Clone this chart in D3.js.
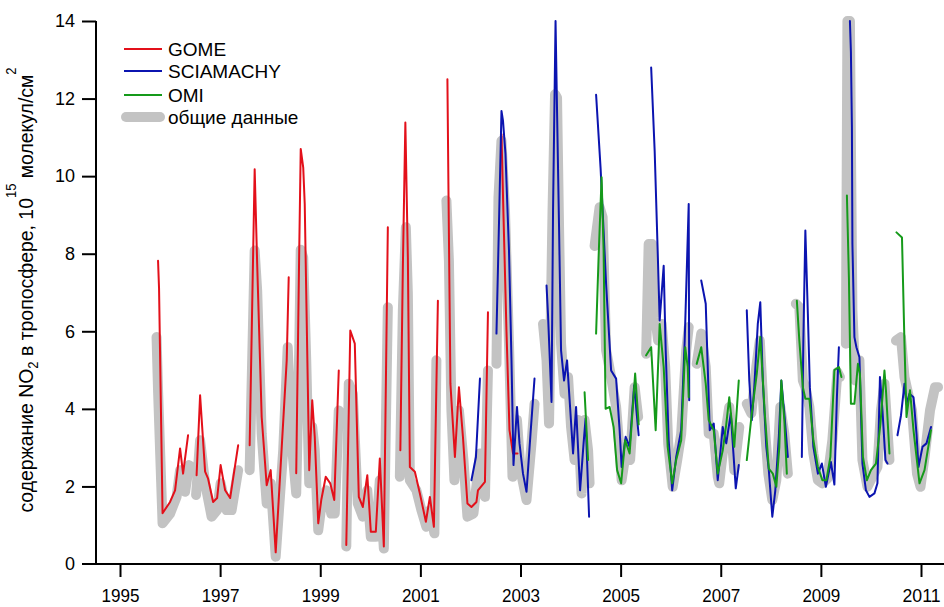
<!DOCTYPE html>
<html><head><meta charset="utf-8">
<script src="https://cdn.jsdelivr.net/npm/d3@7"></script>
<style>
html,body{margin:0;padding:0;background:#fff;}
svg text{font-family:Arial,"Liberation Sans",sans-serif;}
</style></head>
<body><svg id="chart" width="944" height="607"></svg>
<script>
// ---- data (decimal years, NO2 10^15 molecules/cm2); null = gap ----
const gomeYears = [1995.76,1995.78,1995.85,1996.0,1996.10,1996.20,1996.26,1996.36,null,
 1996.53,1996.60,1996.70,1996.76,1996.86,1996.94,1997.01,1997.10,1997.20,1997.36,null,
 1997.59,1997.69,1997.74,1997.83,1997.93,1998.01,1998.11,1998.33,1998.37,null,
 1998.52,1998.58,1998.61,1998.66,1998.69,1998.78,1998.84,1998.89,1998.96,1999.02,1999.11,1999.20,1999.28,1999.37,null,
 1999.52,1999.60,1999.69,1999.77,1999.85,1999.94,2000.01,2000.11,2000.19,2000.27,2000.35,null,
 2000.60,2000.65,2000.70,2000.75,2000.79,2000.89,2000.99,2001.11,2001.19,2001.27,2001.35,null,
 2001.54,2001.56,2001.60,2001.69,2001.77,2001.85,2001.94,2002.02,2002.12,2002.15,2002.29,2002.35,null,
 2002.62,2002.66,2002.72,2002.78,2002.85,2002.94];
const gomeValues = [7.82,7.1,1.31,1.6,1.9,2.98,2.33,3.32,null,
 2.29,4.35,2.38,2.2,1.6,1.7,2.55,1.9,1.7,3.06,null,
 3.06,10.18,7.74,3.79,2.03,2.42,0.3,5.25,7.39,null,
 2.34,8.08,10.7,10.22,9.28,2.42,4.22,3.28,1.05,1.65,2.25,2.08,1.65,4.99,null,
 0.49,6.02,5.68,1.73,1.47,2.29,0.83,0.83,2.72,0.45,8.68,null,
 2.93,7.65,11.38,7.91,2.5,2.38,1.82,1.09,1.73,0.96,6.79,null,
 12.5,9.8,4.65,2.76,4.56,3.28,1.56,1.47,1.6,1.9,2.12,6.49,null,
 11.08,9.0,6.0,3.45,2.85,2.85];

const sciaYears = [2002.02,2002.11,2002.19,null,
 2002.52,2002.57,2002.62,2002.65,2002.70,2002.77,2002.82,2002.86,2002.93,2002.98,2003.05,2003.12,2003.20,2003.28,null,
 2003.52,2003.55,2003.62,2003.65,2003.70,2003.73,2003.77,2003.81,2003.87,2003.93,2003.99,2004.05,2004.11,2004.19,2004.26,2004.30,2004.37,null,
 2004.51,2004.60,2004.71,2004.81,2004.91,2004.98,2005.02,2005.10,2005.18,2005.27,2005.36,null,
 2005.61,2005.68,2005.74,2005.78,2005.86,2005.90,2005.96,2006.03,2006.11,2006.21,2006.28,2006.36,2006.37,null,
 2006.61,2006.70,2006.78,2006.86,2006.94,2007.04,2007.11,2007.20,2007.30,2007.36,null,
 2007.52,2007.57,2007.62,2007.67,2007.74,2007.79,2007.84,2007.91,2007.96,2008.03,2008.09,2008.16,2008.21,2008.27,2008.34,null,
 2008.62,2008.65,2008.69,2008.74,2008.78,2008.85,2008.94,2009.02,2009.10,2009.20,2009.27,2009.32,2009.36,null,
 2009.58,2009.60,2009.62,2009.63,2009.67,2009.71,2009.77,2009.83,2009.90,2009.97,2010.07,2010.13,2010.18,2010.23,2010.29,2010.33,null,
 2010.53,2010.60,2010.67,2010.71,2010.77,2010.85,2010.91,2010.95,2011.03,2011.11,2011.20];
const sciaValues = [2.16,2.76,4.78,null,
 5.94,8.77,11.68,11.43,10.57,8.08,5.25,2.55,4.05,3.11,2.33,1.86,3.36,4.78,null,
 7.18,6.41,4.18,9.11,14.0,11.68,8.68,5.51,4.73,5.25,4.05,2.85,4.05,1.9,3.11,3.75,1.22,null,
 12.1,10.2,7.22,4.99,4.78,3.45,2.5,3.28,3.02,4.61,3.32,null,
 12.8,10.65,8.08,6.28,7.69,5.51,3.19,1.9,2.76,3.45,5.76,9.28,4.22,null,
 7.31,6.71,3.45,3.62,2.16,3.53,3.11,3.88,1.95,2.55,null,
 6.54,4.73,3.71,4.56,6.19,6.75,4.73,3.02,2.42,1.22,1.9,3.28,4.73,3.88,2.76,null,
 2.76,5.76,8.6,6.45,4.56,3.02,2.33,2.59,1.99,2.63,2.05,4.3,5.59,null,
 14.0,13.2,11.25,8.25,5.85,5.59,5.33,2.59,1.9,1.73,1.82,2.08,4.82,3.96,2.68,2.59,null,
 3.32,3.83,4.65,4.13,4.39,4.3,3.36,2.5,3.02,3.11,3.53];

const omiYears = [2004.28,2004.35,null,
 2004.51,2004.56,2004.62,2004.66,2004.70,2004.78,2004.86,2004.93,2005.01,2005.09,2005.18,2005.29,2005.36,null,
 2005.51,2005.61,2005.70,2005.78,2005.86,2005.94,2006.03,2006.11,2006.21,2006.29,2006.34,2006.36,null,
 2006.52,2006.61,2006.70,2006.76,2006.86,2006.94,2007.04,2007.11,2007.17,2007.27,2007.36,null,
 2007.52,2007.62,2007.72,2007.79,2007.88,2007.96,2008.04,2008.11,2008.17,2008.21,2008.27,2008.32,null,
 2008.52,2008.57,2008.64,2008.69,2008.77,2008.85,2008.94,2009.03,2009.11,2009.19,2009.27,2009.36,2009.41,null,
 2009.52,2009.56,2009.60,2009.67,2009.74,2009.78,2009.84,2009.92,2010.00,2010.10,2010.19,2010.27,2010.30,2010.37,null,
 2010.51,2010.62,2010.67,2010.71,2010.78,2010.85,2010.97,2011.07,2011.20];
const omiValues = [4.43,2.68,null,
 5.94,7.91,9.97,8.08,4.0,4.05,3.53,2.42,2.08,3.19,2.85,4.91,3.6,null,
 5.38,5.59,3.45,6.19,5.08,3.02,2.08,2.68,3.19,5.59,5.08,4.3,null,
 5.16,5.59,4.65,3.71,3.45,2.33,2.93,3.6,4.3,3.02,4.73,null,
 2.68,3.88,4.91,5.85,3.88,2.46,2.33,1.99,3.02,4.73,3.71,2.33,null,
 6.79,5.76,4.56,4.26,4.26,3.19,2.5,2.16,2.16,2.76,5.0,5.08,4.82,null,
 9.5,7.39,4.13,4.13,5.16,4.91,2.76,2.16,2.42,2.59,3.62,4.99,4.48,2.85,null,
 8.55,8.42,5.68,3.79,4.48,3.45,2.08,2.42,3.45];

const commonYears = [1995.73,1995.76,1995.85,1996.0,1996.13,1996.20,1996.30,1996.38,null,
 1996.52,1996.60,1996.70,1996.83,1996.94,1997.01,1997.13,1997.23,1997.36,null,
 1997.59,1997.66,1997.69,1997.74,1997.83,1997.93,1998.01,1998.11,1998.26,1998.35,1998.43,1998.52,1998.58,1998.61,1998.66,1998.72,1998.78,1998.84,1998.89,1998.96,1999.02,1999.12,1999.22,1999.29,1999.37,null,
 1999.52,1999.57,1999.65,1999.75,1999.85,1999.94,2000.01,2000.11,2000.19,2000.27,2000.35,null,
 2000.59,2000.65,2000.71,2000.75,2000.79,2000.92,2001.02,2001.12,2001.19,2001.28,2001.32,null,
 2001.52,2001.57,2001.62,2001.68,2001.77,2001.86,2001.94,2002.06,2002.19,2002.29,2002.35,null,
 2002.52,2002.56,2002.62,2002.69,2002.77,2002.84,2002.93,2003.00,2003.12,2003.22,2003.28,null,
 2003.45,2003.52,2003.57,2003.64,2003.69,2003.73,2003.77,2003.81,2003.88,2003.95,2004.01,2004.08,2004.15,2004.22,2004.28,2004.35,2004.38,null,
 2004.48,2004.58,2004.64,2004.71,2004.81,2004.91,2004.98,2005.02,2005.11,2005.19,2005.28,2005.35,null,
 2005.51,2005.56,2005.63,2005.69,2005.75,2005.82,2005.89,2005.95,2006.04,2006.13,2006.21,2006.31,2006.36,null,
 2006.52,2006.61,2006.70,2006.76,2006.86,2006.94,2006.97,2007.07,2007.17,2007.27,2007.37,null,
 2007.52,2007.61,2007.71,2007.78,2007.86,2007.95,2008.03,2008.11,2008.19,2008.27,2008.34,null,
 2008.50,2008.57,2008.64,2008.69,2008.77,2008.85,2008.94,2009.03,2009.13,2009.23,2009.33,2009.38,null,
 2009.50,2009.53,2009.58,2009.60,2009.63,2009.69,2009.77,2009.83,2009.93,2010.03,2010.13,2010.20,2010.27,2010.37,null,
 2010.50,2010.60,2010.67,2010.76,2010.82,2010.92,2010.99,2011.08,2011.18,2011.28,2011.34];
const commonValues = [5.85,4.48,1.05,1.3,1.73,2.42,1.86,2.55,null,
 1.78,3.19,2.08,1.22,1.39,2.08,1.39,1.39,2.42,null,
 2.42,6.36,8.08,7.05,3.36,1.56,2.08,0.19,2.93,5.59,3.11,1.82,5.51,8.1,7.9,5.25,2.08,3.53,2.93,0.87,1.47,1.9,1.3,1.3,3.96,null,
 0.45,4.65,4.39,1.56,1.22,1.9,0.7,0.7,2.16,0.4,6.62,null,
 2.25,6.54,8.68,6.97,2.16,1.9,1.39,0.96,1.39,0.79,5.25,null,
 9.37,7.82,3.96,2.16,3.96,2.68,1.22,1.3,2.85,1.73,4.99,null,
 5.16,9.45,10.91,9.11,5.68,2.25,3.71,2.42,1.65,3.11,4.13,null,
 6.19,5.25,3.62,9.11,12.11,12.02,8.68,5.68,4.39,4.82,3.53,2.68,3.71,1.82,3.71,2.93,2.08,null,
 8.2,9.2,8.94,5.51,4.82,4.05,2.93,2.16,2.93,2.68,4.56,3.79,null,
 5.42,8.25,8.25,6.36,5.76,6.19,5.08,3.11,1.99,2.68,3.36,5.51,6.11,null,
 5.16,5.94,5.08,3.36,3.36,2.25,2.08,3.19,4.05,2.42,3.53,null,
 4.13,3.88,5.08,5.76,3.88,2.33,1.65,2.16,4.05,3.36,2.33,null,
 6.71,6.62,4.73,4.56,4.05,2.85,2.16,2.08,2.2,3.2,4.95,4.82,null,
 5.68,14.0,14.0,10.83,6.54,4.73,5.25,2.68,1.99,2.25,2.5,3.96,4.65,2.68,null,
 5.76,5.85,4.82,4.3,3.96,2.33,1.99,2.85,3.96,4.56,4.56];

const xTickYears = [1995,1997,1999,2001,2003,2005,2007,2009,2011];
const yTickValues = [0,2,4,6,8,10,12,14];
const legendLabels = ["GOME","SCIAMACHY","OMI","общие данные"];

// ---- drawing ----
const svg = d3.select("#chart");
const x = d3.scaleLinear().domain([1995, 2011]).range([120, 921]);
const y = d3.scaleLinear().domain([0, 14]).range([564, 21]);
const axisX = 96;

function pts(ys, vs){ return ys.map((t,i)=> (t==null||vs[i]==null) ? null : [t, vs[i]]); }
const line = d3.line().defined(d=>d!=null).x(d=>x(d[0])).y(d=>y(d[1]));

const series = [
  {name:"common", data:pts(commonYears, commonValues), color:"#c3c3c3", w:10},
  {name:"gome", data:pts(gomeYears, gomeValues), color:"#e3101a", w:2},
  {name:"scia", data:pts(sciaYears, sciaValues), color:"#0b14b0", w:2},
  {name:"omi", data:pts(omiYears, omiValues), color:"#159a1a", w:2}
];
series.forEach(s=>{
  svg.append("path").datum(s.data).attr("d", line)
    .attr("fill","none").attr("stroke", s.color).attr("stroke-width", s.w)
    .attr("stroke-linejoin","round").attr("stroke-linecap","round");
});

// y axis
const gy = svg.append("g").attr("transform",`translate(${axisX},0)`)
  .call(d3.axisLeft(y).tickValues(yTickValues).tickSize(14).tickSizeOuter(0).tickPadding(7));
gy.select(".domain").attr("stroke","#000").attr("stroke-width",2).attr("d",`M0,${y(14)}V${y(0)}`);
gy.selectAll(".tick line").attr("stroke-width",2);
gy.selectAll(".tick").filter(d=>d===0).select("line").remove();
gy.selectAll("text").attr("font-size",18).attr("fill","#000");

// x axis
const gx = svg.append("g").attr("transform",`translate(0,${y(0)})`)
  .call(d3.axisBottom(x).tickValues(xTickYears).tickFormat(d3.format("d")).tickSize(13).tickSizeOuter(0).tickPadding(12));
gx.select(".domain").attr("stroke","#000").attr("stroke-width",2).attr("d",`M${axisX-14},0H944`);
gx.selectAll(".tick line").attr("stroke-width",2);
gx.selectAll("text").attr("font-size",18).attr("fill","#000")
  .attr("textLength",38).attr("lengthAdjust","spacingAndGlyphs");

// y title
const yt = svg.append("text").attr("transform","translate(33,290) rotate(-90) scale(0.925,1)")
  .attr("text-anchor","middle").attr("font-size",21).attr("fill","#000");
yt.append("tspan").text("содержание NO");
yt.append("tspan").attr("font-size",14).attr("dy",5).text("2");
yt.append("tspan").attr("dy",-5).text(" в тропосфере, 10");
yt.append("tspan").attr("font-size",14).attr("dy",-17).text("15");
yt.append("tspan").attr("dy",17).text(" молекул/см");
yt.append("tspan").attr("font-size",14).attr("dy",-17).text("2");

// legend
const legendColors = ["#e3101a","#0b14b0","#159a1a","#c3c3c3"];
const legendW = [2,2,2,10];
const legendY = [49,71,95,117];
legendLabels.forEach((lab,i)=>{
  const ly = legendY[i];
  svg.append("line").attr("x1", i===3?126:124).attr("x2", i===3?160:162).attr("y1",ly).attr("y2",ly)
    .attr("stroke",legendColors[i]).attr("stroke-width",legendW[i]).attr("stroke-linecap", i===3?"round":"butt");
  svg.append("text").attr("x",168).attr("y",ly+7).attr("font-size",19).attr("fill","#000").text(lab);
});
</script></body></html>
